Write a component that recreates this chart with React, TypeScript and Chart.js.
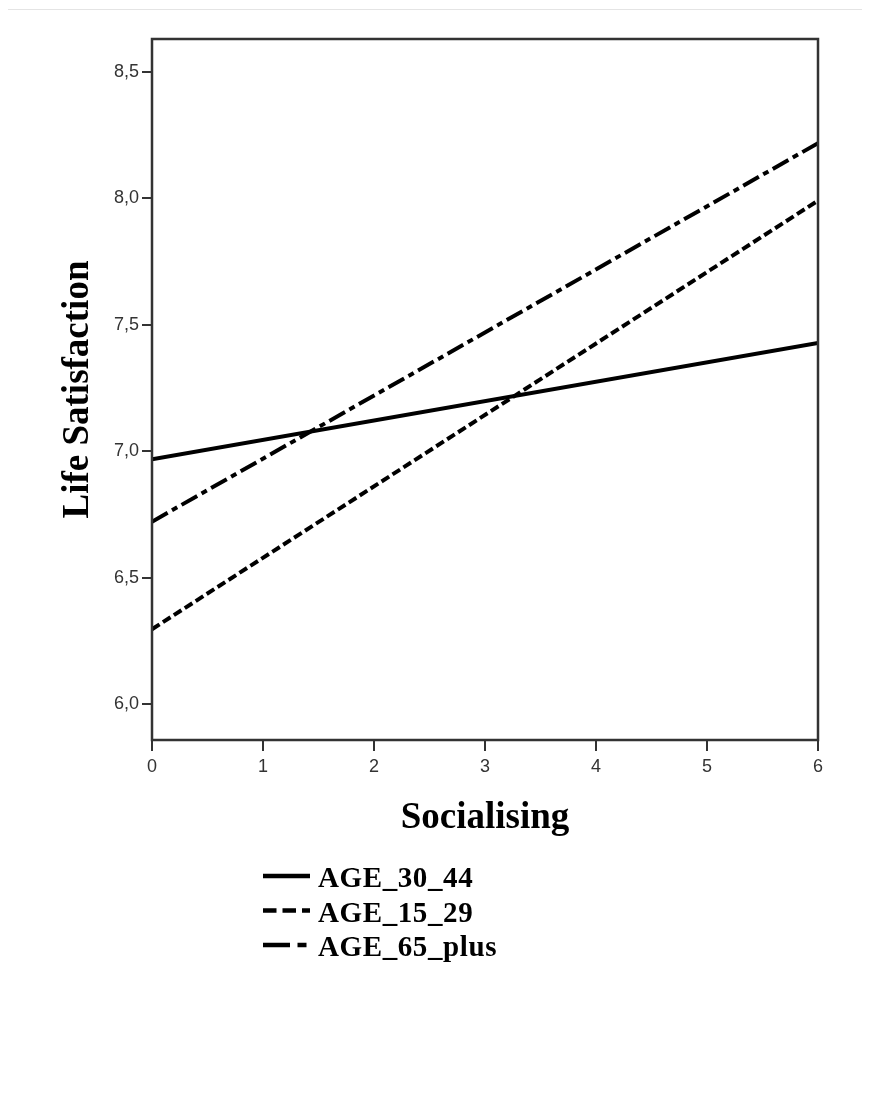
import React, { useEffect, useRef } from "react";
import { Chart, registerables } from "chart.js";

Chart.register(...registerables);

// ---- data ----
const socialising = [0, 6];
const age30_44 = [6.968, 7.427];
const age15_29 = [6.296, 7.99];
const age65_plus = [6.721, 8.217];
const seriesLabels = ["AGE_30_44", "AGE_15_29", "AGE_65_plus"];
const yTickValues = [6.0, 6.5, 7.0, 7.5, 8.0, 8.5];
const xTickValues = [0, 1, 2, 3, 4, 5, 6];
const yRange = [5.858, 8.629];
const xRange = [0, 6];
const xTitle = "Socialising";
const yTitle = "Life Satisfaction";

const toPoints = (ys: number[]) => socialising.map((x, i) => ({ x, y: ys[i] }));

const framePlugin = {
  id: "frame",
  afterDatasetsDraw(chart: any) {
    const { ctx, chartArea } = chart;
    const { left, top, right, bottom } = chartArea;
    ctx.save();
    ctx.strokeStyle = "#333";
    ctx.lineWidth = 2.5;
    ctx.setLineDash([]);
    ctx.strokeRect(left, top, right - left, bottom - top);
    ctx.restore();
  },
};

const legendPlugin = {
  id: "customLegend",
  afterDraw(chart: any) {
    const ctx = chart.ctx;
    const x0 = 256;
    const baseline0 = 877;
    const rowH = 34.5;
    const sampleW = 47;
    const textX = 311;
    chart.data.datasets.forEach((ds: any, i: number) => {
      const base = baseline0 + i * rowH;
      const ly = base - 11;
      ctx.save();
      ctx.strokeStyle = ds.borderColor;
      ctx.lineWidth = 4.5;
      ctx.lineCap = "butt";
      ctx.setLineDash((ds.borderDash || []).map((v: number) => v * 1.5));
      ctx.beginPath();
      ctx.moveTo(x0, ly);
      ctx.lineTo(x0 + sampleW, ly);
      ctx.stroke();
      ctx.setLineDash([]);
      ctx.fillStyle = "#000";
      ctx.font = 'bold 29px "Liberation Serif", "Times New Roman", serif';
      try {
        (ctx as any).letterSpacing = "0.6px";
      } catch (e) {}
      ctx.textBaseline = "alphabetic";
      ctx.textAlign = "left";
      ctx.fillText(ds.label, textX, base);
      ctx.restore();
    });
  },
};

export default function App() {
  const ref = useRef<HTMLCanvasElement | null>(null);

  useEffect(() => {
    if (!ref.current) return;
    const tickFont = { family: '"Liberation Sans", Arial, sans-serif', size: 18 };
    const titleFont = { family: '"Liberation Serif", "Times New Roman", serif', size: 37, weight: "bold" as const };
    const chart = new Chart(ref.current, {
      type: "line",
      data: {
        datasets: [
          {
            label: seriesLabels[0],
            data: toPoints(age30_44),
            borderColor: "#000",
            borderWidth: 4,
            borderDash: [],
            pointRadius: 0,
            fill: false,
          },
          {
            label: seriesLabels[1],
            data: toPoints(age15_29),
            borderColor: "#000",
            borderWidth: 4,
            borderDash: [9, 4],
            pointRadius: 0,
            fill: false,
          },
          {
            label: seriesLabels[2],
            data: toPoints(age65_plus),
            borderColor: "#000",
            borderWidth: 4,
            borderDash: [18, 5, 6, 5],
            pointRadius: 0,
            fill: false,
          },
        ],
      },
      options: {
        animation: false,
        responsive: false,
        maintainAspectRatio: false,
        layout: { padding: { left: 0, top: 29, right: 44, bottom: 249 } },
        plugins: {
          legend: { display: false },
          tooltip: { enabled: false },
        },
        scales: {
          x: {
            type: "linear",
            min: xRange[0],
            max: xRange[1],
            afterBuildTicks: (s: any) => {
              s.ticks = xTickValues.map((v) => ({ value: v }));
            },
            afterFit: (s: any) => {
              s.height = 101;
            },
            border: { display: false },
            grid: {
              drawOnChartArea: false,
              drawTicks: true,
              tickLength: 11,
              color: "#333",
              lineWidth: 2,
            },
            ticks: {
              font: tickFont,
              color: "#333",
              padding: 5,
              maxRotation: 0,
              callback: (v: any) => String(v),
            },
            title: {
              display: true,
              text: xTitle,
              font: titleFont,
              color: "#000",
              padding: { top: 0, bottom: 0 },
            },
          },
          y: {
            type: "linear",
            min: yRange[0],
            max: yRange[1],
            afterBuildTicks: (s: any) => {
              s.ticks = yTickValues.map((v) => ({ value: v }));
            },
            afterFit: (s: any) => {
              s.width = 145;
            },
            border: { display: false },
            grid: {
              drawOnChartArea: false,
              drawTicks: true,
              tickLength: 10,
              color: "#333",
              lineWidth: 2,
            },
            ticks: {
              font: tickFont,
              color: "#333",
              padding: 3,
              callback: (v: any) => Number(v).toFixed(1).replace(".", ","),
            },
            title: {
              display: true,
              text: yTitle,
              font: titleFont,
              color: "#000",
              padding: { top: 49, bottom: 0 },
            },
          },
        },
      },
      plugins: [framePlugin, legendPlugin],
    });
    return () => chart.destroy();
  }, []);

  return (
    <div
      style={{
        marginLeft: -2,
        marginTop: 1,
        borderTop: "1px solid #e4e4e4",
        borderLeft: "1px solid #e4e4e4",
        width: 862,
        height: 1085,
        background: "#fff",
      }}
    >
      <canvas ref={ref} width={855} height={1080} style={{ display: "block", width: 855, height: 1080 }} />
    </div>
  );
}
